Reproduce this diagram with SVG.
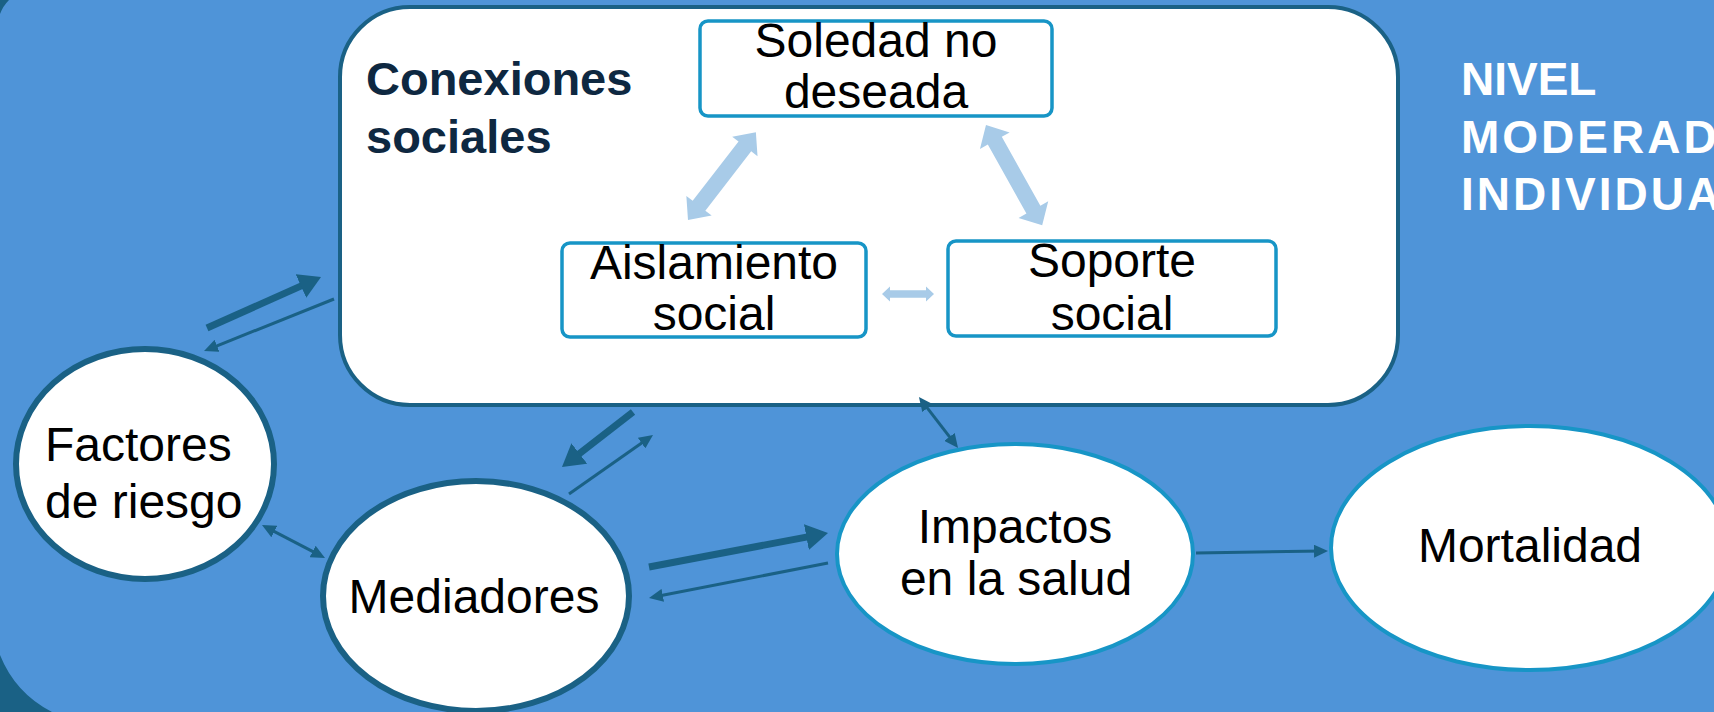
<svg xmlns="http://www.w3.org/2000/svg" width="1714" height="712" viewBox="0 0 1714 712">
<style>
.bg{fill:#4f94d8}
.dark{fill:#1a6185}
.frame{fill:#ffffff;stroke:#1a6185;stroke-width:4}
.ellD{fill:#ffffff;stroke:#1a6185;stroke-width:6}
.ellL{fill:#ffffff;stroke:#1795c6;stroke-width:4}
.box{fill:#ffffff;stroke:#1795c6;stroke-width:3.5}
.lbl{font-family:"Liberation Sans",Arial,sans-serif;font-size:48px;fill:#000000;text-anchor:middle}
.lblL{font-family:"Liberation Sans",Arial,sans-serif;font-size:48px;fill:#000000}
.title{font-family:"Liberation Sans",Arial,sans-serif;font-size:47px;font-weight:bold;fill:#0e2841}
.side{font-family:"Liberation Sans",Arial,sans-serif;font-size:46px;font-weight:bold;fill:#ffffff}
.wide{letter-spacing:3px}
.thick{stroke:#1a6185;stroke-width:7;fill:none;marker-end:url(#mThick)}
.thin{stroke:#1a6185;stroke-width:3;fill:none;marker-end:url(#mThin)}
.both{stroke:#1a6185;stroke-width:3;fill:none;marker-end:url(#mThin);marker-start:url(#mThin)}
.light{fill:#a8cbe8}
</style>
<defs>
<marker id="mThick" markerUnits="userSpaceOnUse" markerWidth="22" markerHeight="26" viewBox="0 0 22 26" refX="12" refY="13" orient="auto-start-reverse"><path d="M0,0 L22,13 L0,26 Z" fill="#1a6185"/></marker>
<marker id="mThin" markerUnits="userSpaceOnUse" markerWidth="14" markerHeight="13" viewBox="0 0 14 13" refX="8" refY="6.5" orient="auto-start-reverse"><path d="M0,0 L14,6.5 L0,13 Z" fill="#1a6185"/></marker>
</defs>
<rect class="bg" x="0" y="0" width="1714" height="712"/>
<path class="dark" d="M0,655 A110,110 0 0 0 52,712 L0,712 Z"/>
<path class="dark" d="M0,0 L9,0 Q3,6 0,14 Z"/>

<g id="conexiones-sociales">
<rect class="frame" x="340" y="7" width="1058" height="398" rx="70" ry="70"/>
<text class="title" x="366" y="95">Conexiones</text>
<text class="title" x="366" y="153">sociales</text>
</g>

<g id="soledad">
<rect class="box" x="700" y="21" width="352" height="95" rx="8"/>
<text class="lbl" x="876" y="57">Soledad no</text>
<text class="lbl" x="876" y="108">deseada</text>
</g>

<g id="aislamiento">
<rect class="box" x="562" y="243" width="304" height="94" rx="8"/>
<text class="lbl" x="714" y="279">Aislamiento</text>
<text class="lbl" x="714" y="330">social</text>
</g>

<g id="soporte">
<rect class="box" x="948" y="241" width="328" height="95" rx="8"/>
<text class="lbl" x="1112" y="277">Soporte</text>
<text class="lbl" x="1112" y="330">social</text>
</g>

<g id="factores">
<ellipse class="ellD" cx="145" cy="464" rx="129" ry="115"/>
<text class="lblL" x="45" y="461">Factores</text>
<text class="lblL" x="45" y="518">de riesgo</text>
</g>

<g id="mediadores">
<ellipse class="ellD" cx="476" cy="596" rx="153" ry="115"/>
<text class="lbl" x="474" y="613">Mediadores</text>
</g>

<g id="impactos">
<ellipse class="ellL" cx="1015" cy="554" rx="178" ry="110"/>
<text class="lbl" x="1015" y="543">Impactos</text>
<text class="lbl" x="1016" y="595">en la salud</text>
</g>

<g id="mortalidad">
<ellipse class="ellL" cx="1530" cy="548" rx="199" ry="122"/>
<text class="lbl" x="1530" y="562">Mortalidad</text>
</g>

<g id="nivel">
<text class="side" x="1461" y="95">NIVEL</text>
<text class="side wide" x="1461" y="153">MODERADOR</text>
<text class="side wide" x="1461" y="210">INDIVIDUAL</text>
</g>

<g id="connectors">
<polygon class="light" transform="translate(688,220) rotate(-52.3)" points="0,0 18,-16 18,-8 93,-8 93,-16 111,0 93,16 93,8 18,8 18,16"/>
<polygon class="light" transform="translate(986,125) rotate(60.75)" points="0,0 18,-17 18,-8 97,-8 97,-17 115,0 97,17 97,8 18,8 18,17"/>
<polygon class="light" transform="translate(882,294)" points="0,0 8,-7.5 8,-3.7 44,-3.7 44,-7.5 52,0 44,7.5 44,3.7 8,3.7 8,7.5"/>
<line class="thick" x1="207" y1="328" x2="311.9" y2="281.1"/>
<line class="thin" x1="334" y1="299" x2="209.6" y2="348.8"/>
<line class="thick" x1="633" y1="412" x2="569.9" y2="460.9"/>
<line class="thin" x1="569" y1="494" x2="648.1" y2="438.5"/>
<line class="both" x1="267.3" y1="527.8" x2="319.7" y2="555.2"/>
<line class="thick" x1="649" y1="567" x2="818.2" y2="534.9"/>
<line class="thin" x1="828" y1="563" x2="654.9" y2="596.8"/>
<line class="both" x1="922.6" y1="401.8" x2="954.4" y2="443.2"/>
<line class="thin" x1="1196" y1="553" x2="1322" y2="551"/>
</g>
</svg>
